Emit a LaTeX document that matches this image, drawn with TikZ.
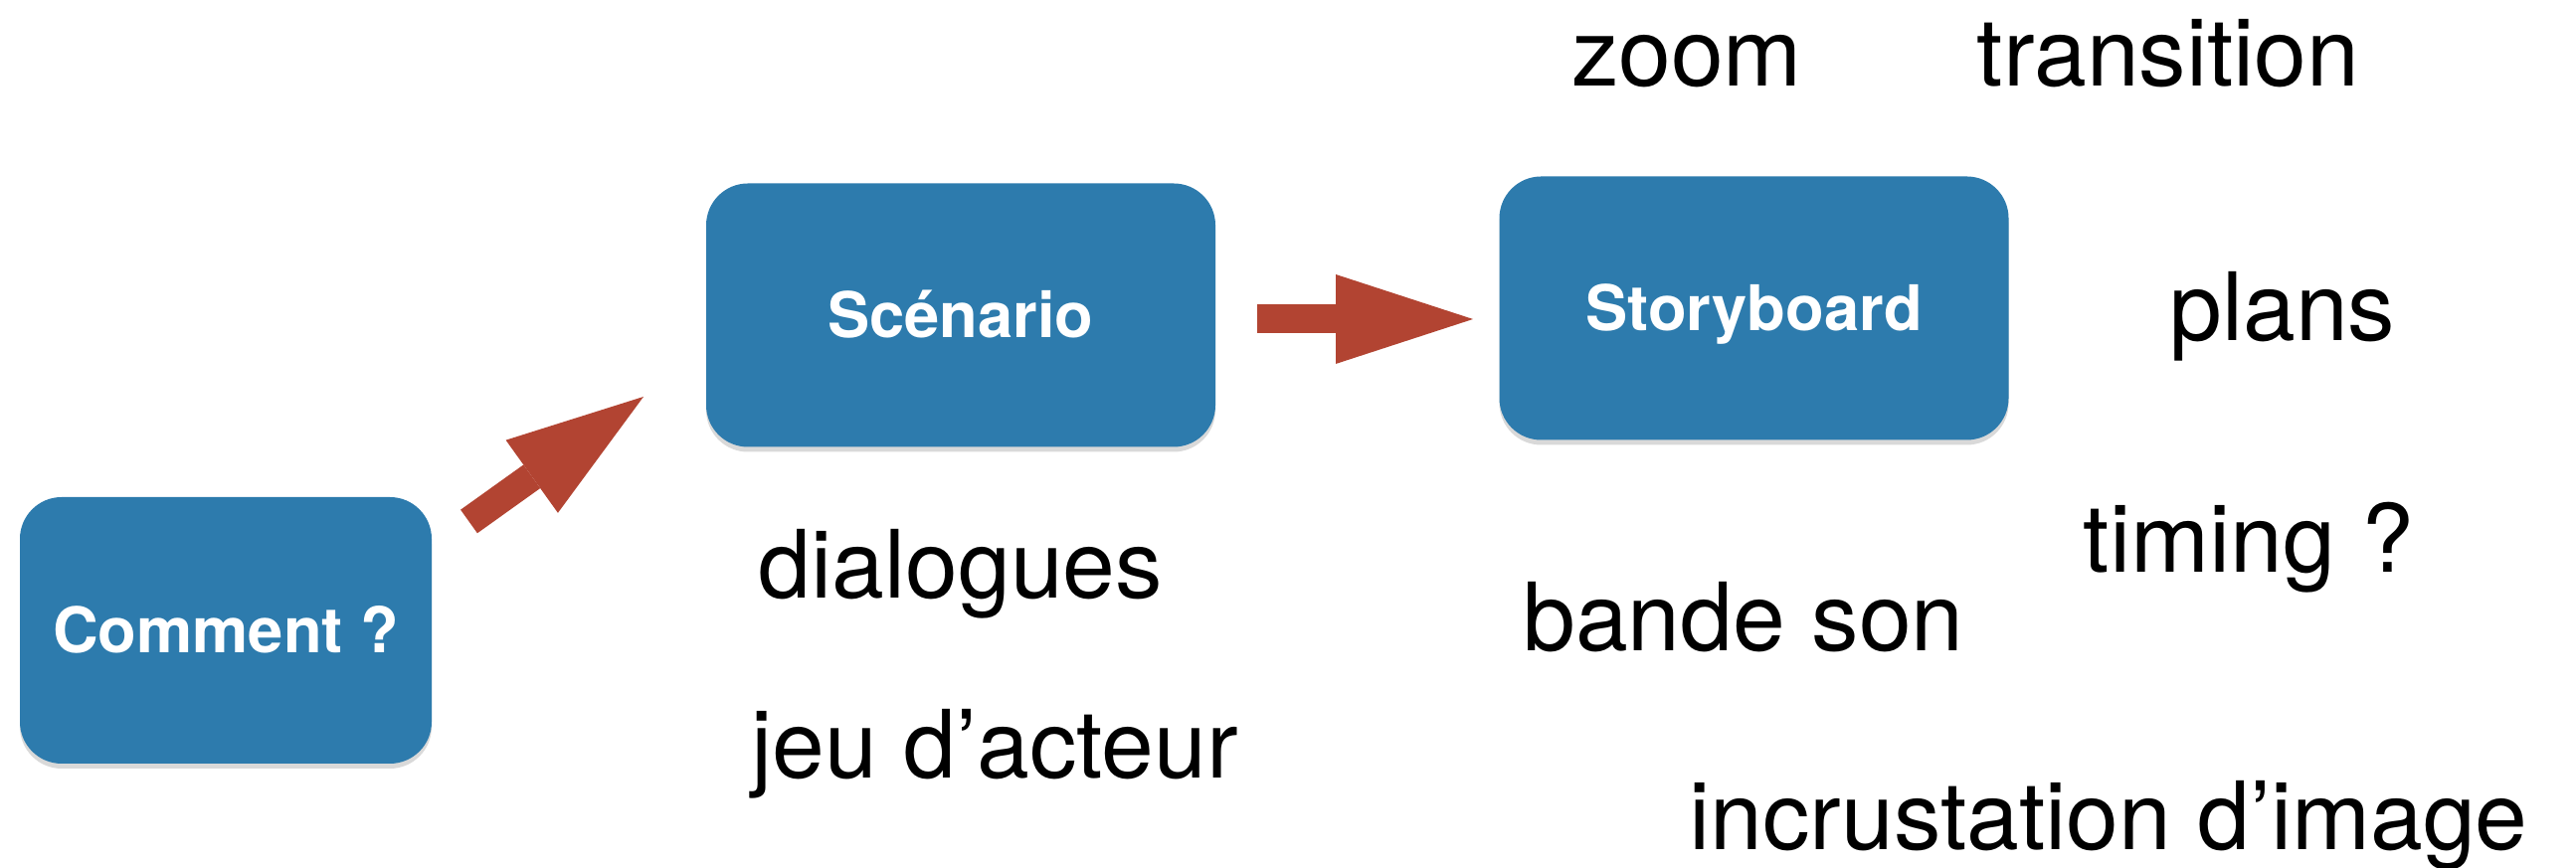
\documentclass[tikz,border=0pt]{standalone}
\usepackage{fontspec}
\setmainfont{TeX Gyre Heros}
\usepackage{tikz}
\usetikzlibrary{arrows.meta}
\usetikzlibrary{shadows}
\usetikzlibrary{positioning}

\definecolor{boxblue}{RGB}{45,123,173}
\definecolor{arrowred}{RGB}{178,68,50}

\tikzset{
  box/.style={rectangle, rounded corners=0.42cm, fill=boxblue, text=white,
    minimum width=5.12cm, minimum height=2.65cm, inner sep=0pt,
    text height=0.46cm, text depth=0pt,
    font=\fontsize{18}{20}\selectfont\bfseries,
    drop shadow={shadow xshift=0pt, shadow yshift=-0.05cm, opacity=0.3}},
  word/.style={anchor=base, inner sep=0pt, font=\fontsize{27}{30}\selectfont},
  bigarrow/.style={draw=arrowred, line width=0.29cm,
    -{Triangle[length=1.38cm, width=0.90cm, line width=0pt, fill=arrowred]}}
}

\begin{document}
\begin{tikzpicture}[scale=1.0]

\useasboundingbox (0,0) rectangle (25.9,8.73);

% the three steps
\node[box, minimum width=4.14cm, minimum height=2.68cm] (Comment) at (2.27, 2.39) {Comment ?};
\node[box] (Scenario) at (9.66, 5.56) {Scénario};
\node[box] (Storyboard) at (17.635, 5.63) {Storyboard};

% arrow ends
\coordinate (A1) at (4.715, 3.485);
\coordinate (B1) at (6.47, 4.74);
\coordinate (A2) at (12.64, 5.52);
\coordinate (B2) at (14.81, 5.52);

\draw[bigarrow] (A1) -- (B1);
\draw[bigarrow] (A2) -- (B2);

% what goes with the scenario
\node[word] (dialogues) at (9.66, 2.71) {dialogues};
\node[word] (jeu) at (10.00, 0.90) {jeu d’acteur};

% what goes with the storyboard
\node[word] (zoom) at (16.96, 7.86) {zoom};
\node[word] (transition) at (21.80, 7.86) {transition};
\node[word] (plans) at (22.95, 5.30) {plans};
\node[word] (timing) at (22.61, 2.97) {timing ?};
\node[word] (bande) at (17.53, 2.18) {bande son};
\node[word] (incrust) at (21.20, 0.18) {incrustation d’image};

\end{tikzpicture}
\end{document}
